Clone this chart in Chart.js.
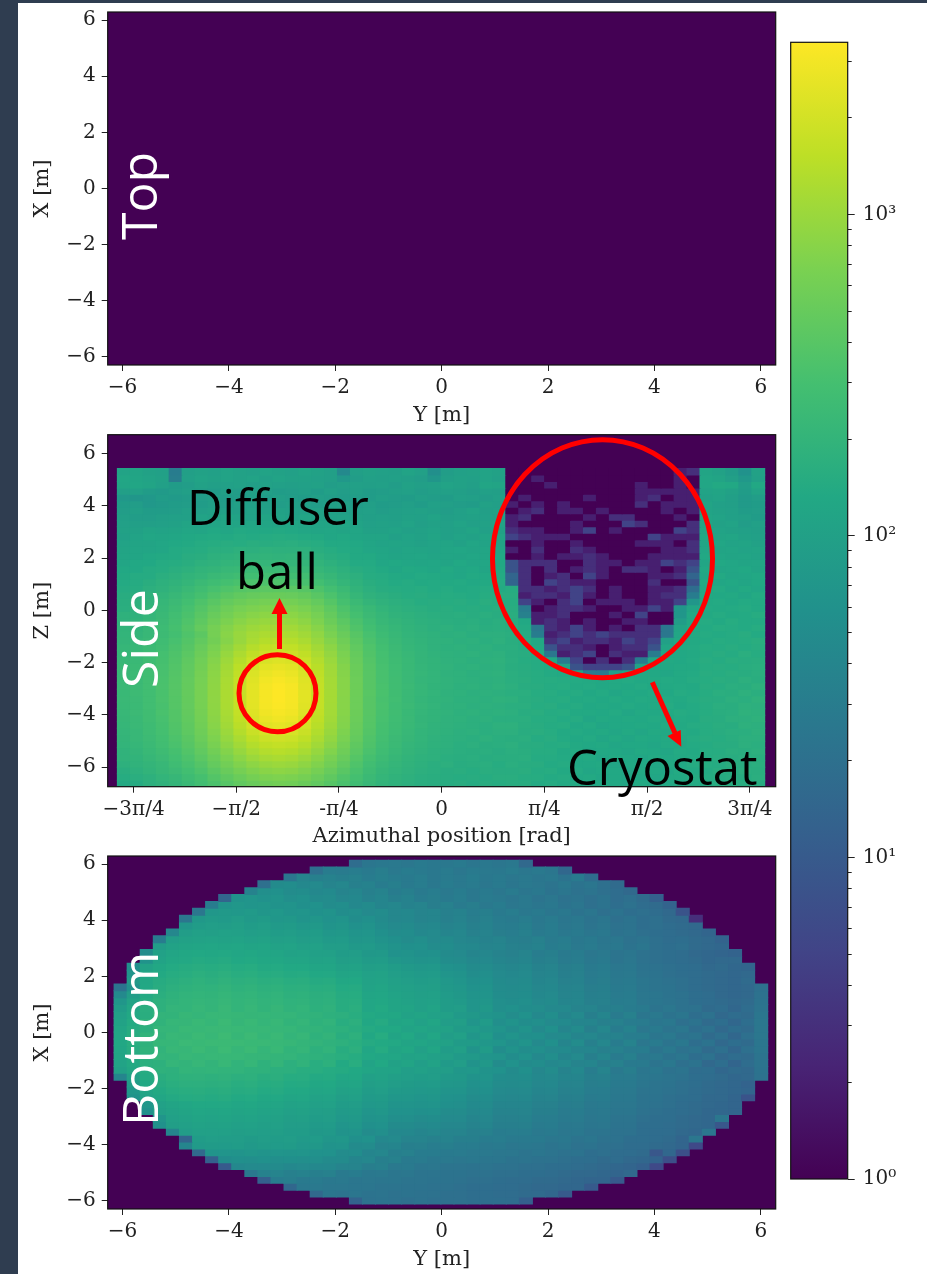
<!DOCTYPE html>
<html><head><meta charset="utf-8">
<style>
html,body{margin:0;padding:0;background:#fff}
body{position:relative;width:927px;height:1274px;overflow:hidden}
#stripTop{position:absolute;left:0;top:0;width:927px;height:3px;background:#2f3d50}
#stripLeft{position:absolute;left:0;top:0;width:18px;height:1274px;background:#2f3d50}
canvas{position:absolute}
svg{position:absolute;left:0;top:0;pointer-events:none}
</style>
<script src="https://cdn.jsdelivr.net/npm/chart.js@4/dist/chart.umd.js"></script>
</head><body>
<div id="stripTop"></div><div id="stripLeft"></div>
<canvas id="cTop" width="762" height="426" style="left:18px;top:2px"></canvas>
<canvas id="cSide" width="762" height="421" style="left:18px;top:428px"></canvas>
<canvas id="cBottom" width="762" height="423" style="left:18px;top:849px"></canvas>
<canvas id="cBar" width="147" height="1170" style="left:780px;top:30px"></canvas>
<svg width="927" height="1274" xmlns="http://www.w3.org/2000/svg">
<g fill="none" stroke="#ff0000" stroke-width="5">
<ellipse cx="277.5" cy="693.3" rx="38.5" ry="38.5"/>
<ellipse cx="602.5" cy="558.7" rx="110" ry="119"/>
<line x1="279.5" y1="649" x2="279.5" y2="610"/>
<line x1="652.3" y1="682.3" x2="675" y2="733"/>
</g>
<g fill="#ff0000">
<polygon points="279.5,598 271.5,614 287.5,614"/>
<polygon points="681.3,746.7 667.5,736 680.7,730"/>
</g>
<g font-family="'Open Sans'" font-size="49" fill="#000">
<text x="187" y="525">Diffuser</text>
<text x="236" y="589">ball</text>
<text x="567" y="785">Cryostat</text>
</g>
<g font-family="'Open Sans'" font-size="50" fill="#fff">
<text transform="translate(157,240) rotate(-90)">Top</text>
<text transform="translate(158,688) rotate(-90)">Side</text>
<text transform="translate(158,1126) rotate(-90)">Bottom</text>
</g>
</svg>
<script>
// ---------- tick labels ----------
const metreTicks = [-6,-4,-2,0,2,4,6];
const metreLabels = ["\u22126","\u22124","\u22122","0","2","4","6"];
const phiTicks = [-2.3562,-1.5708,-0.7854,0,0.7854,1.5708,2.3562];
const phiLabels = ["\u22123\u03c0/4","\u2212\u03c0/2","-\u03c0/4","0","\u03c0/4","\u03c0/2","3\u03c0/4"];
const cbarMajorTicks = [1,10,100,1000];
const cbarLabels = ["10\u2070","10\u00b9","10\u00b2","10\u00b3"];
const cbarMinorTicks = [2,3,4,5,6,7,8,9,20,30,40,50,60,70,80,90,200,300,400,500,600,700,800,900,2000,3000];
const cbarMin = 1, cbarMax = 3430;
const topValue = 1;
const viridisStops = ["#440154","#482475","#414487","#355f8d","#2a788e","#21918c","#22a884","#44bf70","#7ad151","#bddf26","#fde725"];

// ---------- Side panel counts, rows top to bottom ----------
const sideLeftRows = [
[110,115,105,100,30,95,105,100,110,105,100,110,105,100,110,105,95,45,95,105,100,95,110,100,55,90,100,105,110,105],
[125,120,110,105,32,100,110,105,110,105,110,100,110,105,105,100,95,75,90,100,95,100,95,90,70,95,105,100,110,100],
[120,125,115,100,85,90,105,95,100,105,95,105,100,95,100,105,90,95,100,95,100,90,105,95,100,110,105,95,120,115],
[95,100,85,80,90,95,90,85,95,90,100,95,85,90,95,85,100,90,95,85,90,95,100,90,95,100,95,90,100,95],
[75,70,75,85,80,85,90,95,85,90,95,85,95,90,85,95,90,85,90,85,95,90,85,95,90,85,100,95,90,100],
[85,90,75,80,85,90,85,95,90,100,95,95,90,95,95,90,95,100,90,95,85,90,95,85,100,95,90,85,105,95],
[90,95,85,85,90,100,95,105,100,95,105,100,105,100,100,105,100,95,95,100,90,95,100,105,95,90,100,110,95,100],
[95,90,90,95,100,100,110,105,115,110,105,115,110,105,115,105,100,105,105,95,100,95,105,100,110,95,100,105,100,95],
[100,95,95,100,105,115,110,115,120,115,125,120,115,125,120,115,115,120,110,100,105,100,110,95,105,100,110,100,105,110],
[105,105,115,110,115,125,120,130,125,135,130,130,135,130,125,120,125,115,120,105,105,110,100,105,110,100,105,115,100,105],
[100,110,125,120,125,130,135,140,135,145,140,145,150,145,140,135,125,130,120,115,115,100,110,105,115,100,110,105,115,120],
[110,115,115,125,130,135,145,150,155,150,160,155,160,165,155,150,135,135,130,120,110,115,110,105,110,115,105,120,110,115],
[115,120,120,125,140,145,150,165,165,175,170,180,175,175,175,160,150,140,135,125,120,110,120,115,110,120,125,115,120,125],
[120,120,130,135,140,155,160,175,180,190,190,195,190,195,185,175,160,150,135,135,125,115,120,125,115,120,115,125,120,130],
[120,130,130,145,150,160,175,185,200,205,215,210,215,210,205,195,175,160,140,140,125,130,125,120,125,115,130,120,125,130],
[130,130,145,150,165,175,195,205,225,230,240,240,245,240,230,215,195,175,155,145,135,125,135,130,125,135,125,130,120,135],
[135,145,145,165,175,195,210,235,250,270,280,285,285,280,275,245,220,190,170,150,145,135,130,140,135,130,125,135,130,140],
[140,145,160,175,190,210,240,265,295,320,335,340,345,335,315,285,245,210,180,160,150,140,145,135,140,135,140,130,135,145],
[145,150,170,185,205,235,270,310,350,385,410,425,430,420,395,345,290,240,195,170,155,150,145,150,140,145,135,140,145,140],
[155,165,180,200,225,260,305,360,415,465,495,515,525,510,475,410,335,270,215,185,170,160,150,155,145,150,145,140,150,155],
[160,175,190,215,245,285,345,410,480,540,590,620,635,615,565,480,385,305,240,205,185,170,165,150,155,150,155,145,160,150],
[165,180,200,225,260,310,380,460,550,630,690,725,745,725,660,560,440,340,270,230,200,180,170,165,155,160,150,155,150,160],
[180,185,210,235,275,330,410,510,610,710,790,840,860,830,750,630,490,375,300,245,215,190,180,170,165,160,165,155,165,155],
[185,195,215,245,290,350,440,560,680,800,900,960,990,950,850,700,540,420,330,265,225,205,190,175,170,165,160,165,155,165],
[195,195,225,255,305,375,480,620,760,900,1020,1100,1130,1090,970,790,610,470,360,285,240,215,195,185,170,175,165,170,160,165],
[200,205,225,250,290,350,430,620,800,970,1130,1230,1260,1220,1080,880,670,520,395,310,255,225,200,190,180,170,175,165,170,170],
[205,215,235,265,310,375,470,600,770,970,1190,1370,1440,1380,1200,970,750,570,430,330,270,235,210,195,185,180,170,175,165,175],
[215,225,250,280,330,400,510,660,860,1100,1380,1590,1680,1600,1390,1100,840,620,460,350,285,245,215,200,185,175,180,170,175,165],
[215,235,255,295,345,425,545,710,950,1230,1570,1840,1950,1850,1580,1220,920,670,490,365,295,250,225,205,190,180,175,180,170,175],
[225,235,265,305,360,445,575,760,1030,1370,1790,2120,2260,2130,1790,1340,990,710,510,380,305,260,230,205,195,185,180,170,175,180],
[230,240,270,310,370,460,600,800,1100,1490,2000,2420,2600,2430,1990,1450,1050,750,530,390,310,265,230,210,195,190,175,180,170,175],
[225,245,275,315,380,470,620,830,1150,1590,2200,2700,2930,2710,2180,1540,1090,770,540,395,315,265,235,215,200,185,180,170,175,180],
[230,240,280,320,385,480,630,850,1190,1660,2350,2950,3200,2960,2310,1600,1120,785,550,400,315,270,235,210,200,190,180,175,170,175],
[235,245,275,325,390,485,640,860,1210,1700,2440,3100,3400,3120,2400,1640,1130,790,555,400,320,270,240,215,195,190,175,180,170,180],
[230,250,280,320,390,490,640,870,1220,1710,2470,3150,3430,3150,2420,1650,1140,795,555,405,320,270,235,215,200,185,180,170,175,170],
[235,245,275,325,385,485,645,865,1215,1710,2460,3140,3430,3140,2420,1650,1135,790,550,400,315,275,235,210,195,190,175,175,170,180],
[230,240,280,315,385,480,635,855,1200,1690,2420,3080,3350,3090,2380,1630,1125,785,550,400,320,265,240,215,200,185,180,170,175,170],
[225,245,270,320,375,475,625,840,1175,1640,2320,2920,3150,2930,2280,1590,1105,780,545,395,315,270,230,210,195,190,175,180,170,175],
[220,235,270,310,375,465,610,815,1130,1570,2170,2670,2890,2680,2150,1520,1075,760,535,390,310,265,235,205,195,185,180,170,175,165],
[215,235,260,305,365,450,590,785,1080,1470,1970,2390,2560,2400,1960,1430,1035,740,520,385,305,260,230,210,190,185,175,170,165,175],
[210,225,260,295,355,440,565,745,1010,1350,1760,2090,2220,2100,1760,1320,975,700,505,375,300,255,225,200,190,180,170,175,165,170],
[205,225,250,285,340,415,535,700,930,1210,1540,1810,1920,1820,1550,1200,905,660,480,360,290,245,220,200,185,175,170,165,175,165],
[200,215,240,275,325,395,500,650,845,1080,1350,1560,1650,1570,1360,1080,825,610,450,345,280,240,210,195,180,175,165,170,160,165],
[190,205,230,260,305,370,460,590,755,950,1170,1340,1410,1350,1180,950,735,560,420,325,265,230,205,190,175,170,165,160,165,155],
[190,195,220,245,285,340,420,530,675,830,1010,1150,1200,1150,1010,830,655,510,385,305,250,220,195,180,175,165,160,165,155,160],
[175,190,205,225,265,315,380,480,595,725,850,960,1010,970,860,720,585,460,350,280,235,210,190,175,165,170,155,160,165,150],
[160,175,195,220,245,285,340,420,520,625,725,810,850,820,730,625,510,410,320,260,220,200,185,170,165,155,160,150,160,155],
[150,165,175,200,220,260,305,375,450,530,615,685,705,685,625,535,450,360,295,240,210,190,175,165,160,155,150,155,150,160],
[135,145,170,185,205,235,275,330,390,460,520,570,600,580,525,460,390,325,265,225,195,180,170,160,155,150,155,145,155,150]
];
const sideMidRows = [
[1,1,1,1,1,1,1,1,1,1,1,1,1,2,3],
[1,1,2,1,1,1,1,1,1,1,1,1,1,2,1],
[1,1,1,2,1,1,1,1,1,1,2,1,1,2,1],
[1,1,1,1,1,1,1,1,1,1,2,2,2,2,2],
[1,2,1,1,1,1,2,1,1,1,2,3,1,2,2],
[2,1,2,1,2,1,1,1,1,1,3,1,2,2,2],
[1,2,3,1,2,2,1,2,1,1,1,1,2,1,2],
[2,3,1,1,1,1,2,1,3,3,1,1,1,2,1],
[2,1,1,1,1,2,1,1,1,5,3,1,1,1,3],
[3,2,2,1,1,2,5,1,2,1,1,1,1,5,3],
[5,3,2,2,2,1,1,1,1,1,1,5,2,2,2],
[1,1,2,1,1,2,1,1,1,1,2,2,2,1,3],
[2,1,3,1,1,3,2,1,1,1,1,1,2,2,3],
[1,1,2,1,2,2,3,2,1,1,1,2,2,2,2],
[8,3,3,3,1,1,3,2,2,1,2,2,5,3,5],
[8,3,1,3,1,2,3,2,1,3,3,2,1,2,8],
[14,3,1,2,3,1,5,2,1,1,1,2,2,3,14],
[14,3,1,5,3,2,2,1,1,1,1,3,1,1,8],
[150,3,3,2,3,5,3,1,2,1,1,2,2,3,18],
[155,2,3,3,2,5,2,1,2,1,1,2,3,3,30],
[150,5,2,1,3,5,1,2,2,2,1,2,2,5,70],
[155,30,1,2,3,3,2,1,1,2,2,5,2,70,120],
[160,35,2,2,3,1,1,1,2,1,5,1,1,70,130],
[155,130,2,3,2,1,2,1,1,2,2,1,1,90,130],
[160,140,25,3,2,5,2,1,2,1,3,3,25,115,135],
[165,145,30,2,3,5,3,5,3,3,3,3,25,125,135],
[160,150,130,3,5,2,3,3,2,5,3,5,100,130,135],
[165,150,135,8,3,3,2,1,2,3,3,8,125,135,140],
[160,155,140,25,2,3,5,1,3,2,2,30,130,130,135],
[165,150,145,130,30,5,1,3,1,3,30,125,135,130,140],
[160,155,145,140,110,8,5,5,5,8,110,130,130,135,135],
[165,155,150,140,135,125,30,28,105,125,130,130,125,135,140],
[165,160,150,150,145,140,135,130,135,140,130,135,140,135,145],
[170,155,155,145,150,135,140,130,135,130,140,130,135,140,135],
[165,165,150,150,140,145,130,140,125,135,130,140,130,145,140],
[175,160,155,145,150,135,140,130,140,130,140,135,140,135,145],
[165,165,150,155,140,145,130,135,130,140,130,135,145,130,140],
[170,155,160,145,150,135,135,130,140,125,135,130,135,145,140],
[165,165,150,150,140,145,125,135,130,135,130,140,130,140,135],
[175,160,155,145,150,130,140,125,130,130,135,130,140,135,145],
[170,155,160,150,135,140,130,135,125,135,125,135,130,140,135],
[160,165,145,155,140,130,140,125,135,125,135,130,135,135,145],
[170,155,155,145,150,135,130,135,125,130,130,125,135,130,140],
[165,160,150,150,135,140,125,130,130,125,135,130,125,140,135],
[160,165,145,145,140,130,135,125,135,130,125,135,130,135,140],
[165,155,155,140,145,130,130,135,125,130,130,125,135,130,145],
[155,160,145,150,135,140,125,130,130,125,135,130,125,140,135],
[160,150,150,140,145,130,135,125,130,125,130,125,135,135,145],
[155,155,140,145,135,135,125,130,130,125,135,130,130,135,140]
];
const sideRightRows = [
[115,105,85,60,105],[125,115,95,75,100],[125,135,130,90,130],[110,115,105,85,110],[105,110,95,80,90],
[115,100,95,80,85],[110,105,100,85,90],[120,110,100,95,85],[115,105,110,90,100],[125,110,105,100,95],
[130,115,120,105,100],[120,125,110,115,105],[125,115,120,110,115],[130,125,115,120,110],[120,130,125,115,120],
[130,120,125,130,115],[125,135,120,125,130],[135,125,130,120,130],[130,140,125,135,125],[135,130,135,125,140],
[135,140,130,140,135],[140,135,140,145,135],[135,145,135,140,150],[145,135,150,140,140],[140,150,145,140,150],
[145,140,145,155,140],[140,150,145,150,160],[150,145,155,145,155],[145,155,145,165,150],[155,145,160,155,160],
[150,155,150,160,165],[155,150,160,155,165],[150,160,155,170,160],[155,150,165,160,175],[150,165,160,175,165],
[155,155,170,165,180],[150,165,160,175,170],[150,160,165,180,175],[155,155,170,170,180],[150,160,155,175,170],
[150,155,165,165,175],[155,150,160,170,170],[145,155,155,170,165],[150,150,165,160,170],[145,155,155,165,160],
[150,145,160,155,165],[140,155,150,165,160],[145,145,155,150,165],[140,150,155,155,150]
];

// ---------- Bottom panel counts, rows top to bottom, each row centred on the 50-column grid ----------
const bottomRows = [
[18,24,26,27,25,28,26,26,28,24,26,24,26,16],
[20,30,29,31,28,32,27,30,28,26,29,25,28,27,26,29,25,27,24,15],
[24,38,34,36,33,35,30,33,30,28,31,26,29,27,30,26,28,25,27,24,26,22,28,18],
[20,48,52,44,46,38,42,34,36,30,33,28,31,26,30,27,29,25,28,24,27,25,23,26,22,24,20,17],
[36,55,58,50,52,44,47,38,41,34,37,30,33,28,31,27,30,26,28,25,29,24,26,22,24,21,23,20,18,16],
[14,62,68,60,64,54,58,48,50,42,44,36,39,33,36,30,32,28,31,26,29,27,24,27,23,25,21,23,20,22,18,20,17,12],
[30,66,72,68,70,62,66,56,60,50,53,44,48,40,42,36,38,32,35,29,32,27,30,25,27,24,26,22,24,20,22,19,21,18,17,13],
[25,72,78,74,80,70,74,64,68,58,62,52,55,46,50,42,44,38,40,34,36,31,33,28,31,26,28,24,26,22,24,20,22,19,20,18,16,8],
[24,76,84,80,88,78,84,72,76,66,70,60,64,52,56,48,42,44,38,40,34,37,32,35,30,28,31,26,29,24,26,22,24,20,22,19,20,17,16,3],
[72,86,92,88,96,86,92,80,84,74,78,66,70,58,62,52,46,48,42,44,37,40,34,36,31,30,33,27,30,25,27,23,25,21,22,19,20,18,17,16],
[42,90,98,95,102,98,92,96,86,90,82,86,72,76,64,68,56,50,52,44,46,40,42,35,37,32,31,34,28,30,26,28,24,26,21,23,20,19,18,17,16,14],
[30,92,104,108,112,106,110,102,106,96,100,90,92,80,82,70,72,62,56,50,54,46,48,42,40,36,38,33,32,35,29,31,26,28,24,25,21,23,20,18,19,17,16,13],
[88,108,116,120,124,118,122,114,118,106,110,100,102,88,90,78,80,70,62,56,58,50,52,45,43,38,40,35,34,36,30,32,27,29,25,26,22,24,20,19,20,17,16,15],
[50,102,118,126,132,128,134,124,128,118,120,108,110,98,100,86,88,76,78,60,62,56,58,48,46,40,42,37,35,38,31,33,28,30,25,27,23,24,21,20,19,18,16,15,14,13],
[62,112,126,134,142,138,144,132,136,126,128,118,120,106,110,94,96,84,86,72,68,62,64,52,50,43,45,39,37,40,33,35,29,31,26,28,23,25,21,20,19,18,17,15,16,16],
[55,108,128,140,148,155,150,158,146,150,138,140,130,132,118,120,104,108,94,96,85,78,72,74,60,56,48,50,43,41,44,36,38,32,34,28,30,25,26,22,21,20,19,18,16,17,15,14],
[65,118,136,150,158,168,160,170,156,162,150,152,142,146,130,134,116,120,102,106,92,86,80,82,68,62,52,54,46,44,46,38,40,33,35,29,31,26,27,23,22,20,19,18,17,16,15,16],
[78,128,148,160,170,180,172,184,170,176,164,168,156,160,144,148,128,132,108,112,98,92,86,88,74,68,56,58,48,46,48,40,42,35,36,30,32,27,28,24,23,21,20,18,17,16,15,17],
[22,60,130,155,170,182,190,186,198,182,190,176,182,168,172,156,160,140,144,112,118,104,98,92,94,78,72,60,62,50,48,50,42,44,37,38,32,33,28,29,24,23,22,20,18,17,16,15,16,20],
[45,90,140,165,180,192,200,195,208,192,200,186,192,178,182,166,170,148,150,118,124,110,104,96,98,82,76,64,66,52,50,52,44,46,38,40,33,34,29,30,25,24,22,21,19,18,16,15,16,21],
[70,110,150,175,190,200,208,202,216,200,208,194,200,186,190,172,176,154,156,122,128,114,108,100,102,86,80,68,70,54,52,54,46,48,40,41,34,35,30,31,25,24,23,21,19,18,17,16,17,22],
[85,122,165,178,202,200,218,204,228,200,218,196,212,188,200,174,184,154,164,122,136,114,116,100,110,86,88,68,76,54,58,52,51,45,45,38,38,33,33,30,28,23,25,21,21,17,18,15,18,23],
[98,132,160,198,196,220,210,222,222,220,212,214,206,206,192,190,176,170,156,136,128,128,108,114,102,100,80,76,68,62,51,60,45,53,39,46,33,40,29,35,24,27,22,24,19,21,16,18,17,24],
[108,140,180,188,214,212,230,214,242,212,232,206,226,196,210,180,192,158,172,126,144,116,124,102,118,90,94,68,82,54,62,52,54,46,47,40,40,34,35,30,29,24,26,20,22,17,19,15,19,25],
[118,148,172,208,206,232,222,234,234,232,224,226,216,214,198,196,180,174,160,142,132,132,112,118,106,104,84,82,72,66,53,63,46,56,40,48,34,42,30,36,25,28,23,25,19,21,16,19,17,25],
[125,154,192,198,226,220,242,224,254,220,244,214,236,202,216,182,198,160,178,128,150,116,130,102,122,90,98,70,84,56,64,54,56,46,48,40,42,36,36,31,31,24,27,21,23,17,20,15,20,25],
[128,156,182,214,214,238,230,242,240,240,232,234,224,220,204,198,184,176,162,144,136,134,116,120,106,104,84,84,72,68,54,64,46,56,40,50,34,42,30,37,25,29,23,26,19,22,16,19,17,24],
[124,152,190,194,224,218,240,220,248,218,240,208,230,196,210,176,192,154,172,122,146,114,126,100,118,86,96,66,84,52,62,52,54,46,47,40,40,34,35,30,30,23,27,21,23,17,20,15,20,24],
[118,144,170,202,200,226,214,226,222,222,212,212,204,202,186,182,170,162,150,132,124,124,106,112,100,96,80,78,68,64,52,60,45,53,39,46,33,40,29,34,25,27,22,24,19,21,16,18,17,23],
[110,136,172,176,206,198,218,198,222,192,214,182,204,172,188,156,174,136,158,110,132,104,114,92,106,80,90,62,76,50,60,48,52,44,46,38,39,32,35,28,28,23,26,20,22,16,19,14,18,23],
[100,126,148,180,178,200,192,200,192,192,182,182,172,170,158,158,146,142,130,118,110,110,92,100,88,88,72,74,62,60,48,56,42,50,37,44,31,38,27,32,24,26,21,23,18,19,15,17,16,22],
[40,100,142,160,174,182,184,178,184,170,176,160,166,150,152,138,142,124,128,100,108,96,92,86,88,78,76,62,64,52,50,52,44,45,39,40,33,34,29,29,25,24,23,21,19,18,17,15,16,21],
[85,130,148,162,170,172,166,172,158,164,150,154,140,142,128,132,114,118,94,100,88,84,80,82,72,70,58,60,50,48,49,42,43,37,38,32,33,28,28,24,23,22,20,19,17,16,15,13],
[72,120,136,150,158,160,154,160,148,152,140,144,130,132,118,122,104,108,86,92,80,78,74,76,66,64,54,56,46,45,46,40,41,35,36,31,31,27,27,23,23,21,20,18,17,16,15,14],
[62,108,124,138,146,148,142,148,136,140,128,132,118,122,108,112,94,98,80,84,72,72,68,70,60,58,50,52,43,42,43,37,38,33,34,29,30,26,26,22,22,20,19,18,16,16,14,8],
[70,102,116,124,130,130,134,124,126,118,120,108,110,98,102,86,90,74,78,66,66,62,64,56,54,47,48,40,39,40,35,35,31,32,27,28,25,25,22,21,20,18,17,16,15,14],
[58,96,108,116,122,120,124,116,118,110,112,100,104,92,94,80,84,68,72,60,60,56,58,50,50,43,45,37,37,38,33,33,29,30,26,27,24,24,21,20,19,18,17,15,15,14],
[68,100,108,114,112,114,108,110,102,104,94,96,86,88,74,78,62,66,54,54,50,52,46,46,40,42,35,35,36,31,31,28,29,25,26,23,23,20,19,19,17,16,15,25],
[58,94,100,106,104,106,100,102,96,98,90,90,80,82,68,72,56,60,48,48,45,47,42,42,37,39,33,33,34,29,30,26,27,24,25,22,22,19,19,18,17,16,15,9],
[40,90,98,98,100,94,96,92,94,86,86,76,78,62,66,50,54,43,44,40,42,38,38,34,35,30,31,31,27,28,25,26,23,23,21,21,19,18,18,16,15,24],
[14,86,92,88,90,84,88,86,90,80,82,70,72,56,60,44,46,38,38,35,37,33,33,30,31,28,28,28,25,26,23,24,21,21,19,19,18,17,14,25],
[40,80,84,82,86,78,84,82,84,74,76,62,64,48,50,38,40,33,34,31,33,30,30,27,28,25,26,25,23,24,21,22,20,20,18,18,17,16,14,6],
[16,64,68,66,70,64,68,66,68,60,60,50,52,40,42,33,35,30,30,28,29,27,27,25,25,23,24,23,21,22,19,20,18,18,17,9,15,7],
[12,52,56,54,58,54,56,54,54,48,48,40,42,33,35,28,29,26,27,25,26,24,24,22,23,21,21,20,19,19,17,18,16,15,13,7],
[10,44,46,46,48,44,46,44,44,38,38,32,34,27,28,24,25,23,23,22,23,21,21,20,20,19,19,18,17,16,15,14,12,6],
[26,36,38,34,36,33,35,28,30,26,27,24,25,23,23,22,22,21,21,20,20,19,19,18,17,16,16,15,14,16],
[12,30,32,28,29,26,27,24,25,24,24,23,23,22,22,21,20,20,19,18,18,17,17,16,15,14,14,10],
[15,26,27,25,25,24,24,23,23,22,22,21,21,20,19,19,18,18,17,16,16,15,15,10],
[16,24,23,24,22,23,21,22,21,21,20,20,19,19,18,18,17,17,15,10],
[13,21,22,21,20,21,20,20,20,19,19,19,18,12]
];

// ---------- colour mapping ----------
function hexRgb(h){return [1,3,5].map(i=>parseInt(h.substr(i,2),16));}
function viridis(v){
  const t=Math.min(1,Math.max(0,Math.log10(v)/Math.log10(cbarMax)))*(viridisStops.length-1);
  const i=Math.min(viridisStops.length-2,Math.floor(t)),f=t-i;
  const a=hexRgb(viridisStops[i]),b=hexRgb(viridisStops[i+1]);
  return `rgb(${a.map((c,k)=>Math.round(c+(b[k]-c)*f)).join(",")})`;
}

// ---------- datasets: every cell is a floating bar on the chart's own scales ----------
function rowDatasets(rows,x0,xStep,yTop,yStep,colCount){
  return rows.map((row,r)=>{
    const first=Math.floor((colCount-row.length)/2);
    const hi=yTop-r*yStep, lo=hi-yStep;
    return {
      data:row.map((v,i)=>({x:x0+(first+i+0.5)*xStep,y:[lo,hi]})),
      backgroundColor:row.map(viridis),
      borderWidth:0,inflateAmount:0.5,barPercentage:1,categoryPercentage:1
    };
  });
}
const sideRows = sideLeftRows.map((r,i)=>r.concat(sideMidRows[i],sideRightRows[i]));

// ---------- shared plugins and axes ----------
const tickColor="#222";
const serif="'DejaVu Serif'";
function noPad(s){s.paddingTop=0;s.paddingBottom=0;s.paddingLeft=0;s.paddingRight=0;}
const framePlugin={id:"frame",
  beforeDatasetsDraw(c){const a=c.chartArea;if(c.canvas.id==="cBar")return;c.ctx.save();c.ctx.fillStyle=viridis(topValue);c.ctx.fillRect(a.left,a.top,a.width,a.height);c.ctx.restore();},
  afterDatasetsDraw(c){const a=c.chartArea;c.ctx.save();c.ctx.strokeStyle="#111";c.ctx.lineWidth=1.2;c.ctx.strokeRect(a.left,a.top,a.width,a.height);c.ctx.restore();}
};
function axis(min,max,ticks,labels,title,fix,titlePad,tickPad){
  return {type:"linear",min,max,offset:false,
    grid:{display:true,drawOnChartArea:false,drawTicks:true,tickLength:6,color:tickColor,offset:false},
    border:{display:false},
    ticks:{autoSkip:false,maxRotation:0,minRotation:0,padding:tickPad,color:tickColor,font:{family:serif,size:20},
      callback:(v)=>{const i=ticks.findIndex(t=>Math.abs(t-v)<1e-6);return i<0?"":labels[i];}},
    afterBuildTicks:s=>{s.ticks=ticks.map(value=>({value}));},
    afterFit:s=>{fix(s);noPad(s);},
    title:{display:true,text:title,color:tickColor,font:{family:serif,size:21},padding:{top:titlePad,bottom:0}}
  };
}
function panel(id,datasets,pad,xMin,xMax,xTicks,xLabels,xTitle,yMin,yMax,yTitle,xH){
  return new Chart(document.getElementById(id),{
    type:"bar",
    data:{datasets},
    options:{responsive:false,animation:false,events:[],
      datasets:{bar:{grouped:false}},
      layout:{autoPadding:false,padding:pad},
      plugins:{legend:{display:false},tooltip:{enabled:false},title:{display:false}},
      scales:{
        x:Object.assign(axis(xMin,xMax,xTicks,xLabels,xTitle,s=>{s.height=xH;},0,5),{position:"bottom"}),
        y:Object.assign(axis(yMin,yMax,metreTicks,metreLabels,yTitle,s=>{s.width=89.7;},12.4,6),{position:"left"})
      }
    },
    plugins:[framePlugin]
  });
}
const padRight=4.3;
panel("cTop",[],{top:10,right:padRight,left:0,bottom:0},-6.28,6.28,metreTicks,metreLabels,"Y [m]",-6.29,6.29,"X [m]",63);
panel("cSide",rowDatasets(sideRows,-2.48,0.099,5.44,0.2488,50),{top:6.7,right:padRight,left:0,bottom:0},-2.554,2.554,phiTicks,phiLabels,"Azimuthal position [rad]",-6.75,6.73,"Z [m]",62.3);
panel("cBottom",rowDatasets(bottomRows,-6.16,0.2458,6.14,0.245,50),{top:7,right:padRight,left:0,bottom:0},-6.28,6.28,metreTicks,metreLabels,"Y [m]",-6.29,6.29,"X [m]",63);

// ---------- colour bar ----------
new Chart(document.getElementById("cBar"),{
  type:"bar",
  data:{labels:[""],datasets:[{
    data:[[cbarMin,cbarMax]],borderWidth:0,barPercentage:1,categoryPercentage:1,yAxisID:"y",
    backgroundColor:(ctx)=>{
      const a=ctx.chart.chartArea;if(!a)return viridisStops[0];
      const g=ctx.chart.ctx.createLinearGradient(0,a.bottom,0,a.top);
      viridisStops.forEach((c,i)=>g.addColorStop(i/(viridisStops.length-1),c));
      return g;
    }
  }]},
  options:{responsive:false,animation:false,events:[],
    layout:{autoPadding:false,padding:{left:10.7,top:12.3,bottom:21,right:0}},
    plugins:{legend:{display:false},tooltip:{enabled:false}},
    scales:{
      x:{type:"category",display:false},
      yMinor:{type:"logarithmic",position:"right",min:cbarMin,max:cbarMax,weight:-1,
        grid:{display:true,drawOnChartArea:false,tickLength:4,color:tickColor},border:{display:false},
        ticks:{display:false,autoSkip:false},
        afterBuildTicks:s=>{s.ticks=cbarMinorTicks.map(value=>({value}));},
        afterFit:s=>{s.width=0;noPad(s);}},
      y:{type:"logarithmic",position:"right",min:cbarMin,max:cbarMax,weight:1,
        grid:{display:true,drawOnChartArea:false,tickLength:7,color:tickColor},border:{display:false},
        ticks:{autoSkip:false,padding:8,color:tickColor,font:{family:serif,size:20},
          callback:(v)=>{const i=cbarMajorTicks.indexOf(v);return i<0?"":cbarLabels[i];}},
        afterBuildTicks:s=>{s.ticks=cbarMajorTicks.map(value=>({value}));},
        afterFit:s=>{s.width=79.3;noPad(s);}}
    }
  },
  plugins:[framePlugin]
});
</script>
</body></html>
